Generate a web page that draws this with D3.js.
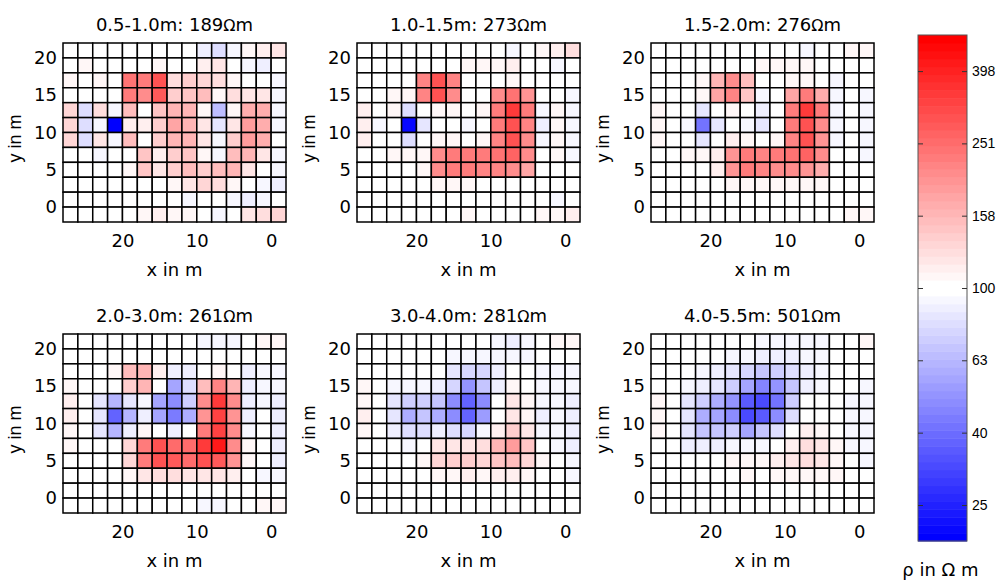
<!DOCTYPE html>
<html>
<head>
<meta charset="utf-8">
<script src="https://cdn.jsdelivr.net/npm/d3@7"></script>
<style>
  body { margin: 0; background: #fff; }
  text { fill: #000; }
</style>
</head>
<body>
<svg id="chart"></svg>
<script>
// cell centres in m (columns left->right, rows top->bottom)
const xCenters = [27, 25, 23, 21, 19, 17, 15, 13, 11, 9, 7, 5, 3, 1, -1];
const yCenters = [21, 19, 17, 15, 13, 11, 9, 7, 5, 3, 1, -1];

const depths = ["0.5-1.0m", "1.0-1.5m", "1.5-2.0m", "2.0-3.0m", "3.0-4.0m", "4.0-5.5m"];
const maxRho = [189, 273, 276, 261, 281, 501];

const xTicks = [0, 10, 20];
const yTicks = [0, 5, 10, 15, 20];
const cbTicks = [25.1, 39.8, 63.1, 100, 158.5, 251.2, 398.1];
const cbTickLabels = ["25", "40", "63", "100", "158", "251", "398"];

// resistivity in Ohm m
const rho1 = [
    [100, 100, 100, 100, 100, 100, 100, 100, 100, 88, 80, 93, 110, 112, 122],
    [100, 107, 100, 100, 100, 100, 107, 100, 100, 112, 118, 100, 93, 88, 100],
    [107, 100, 107, 100, 245, 225, 290, 128, 138, 135, 125, 107, 100, 100, 93],
    [100, 100, 100, 100, 225, 205, 285, 140, 145, 150, 110, 125, 118, 118, 92],
    [132, 78, 125, 93, 150, 100, 145, 165, 160, 107, 66, 107, 172, 172, 92],
    [135, 78, 93, 20, 115, 115, 140, 180, 165, 118, 82, 120, 190, 172, 93],
    [135, 78, 122, 93, 150, 100, 138, 165, 165, 122, 92, 140, 190, 168, 100],
    [100, 100, 93, 100, 100, 145, 115, 140, 145, 107, 93, 150, 165, 122, 92],
    [100, 100, 100, 100, 107, 148, 120, 140, 150, 140, 150, 165, 120, 100, 92],
    [100, 100, 100, 100, 100, 100, 100, 107, 118, 135, 128, 110, 100, 93, 90],
    [100, 100, 100, 100, 100, 100, 100, 100, 92, 100, 100, 93, 90, 92, 100],
    [100, 100, 100, 100, 100, 107, 112, 110, 107, 100, 93, 100, 118, 125, 130]
];
const rho2 = [
    [100, 100, 100, 100, 100, 100, 100, 100, 100, 100, 92, 100, 107, 112, 125],
    [100, 100, 100, 100, 100, 100, 100, 107, 107, 110, 112, 100, 100, 93, 100],
    [100, 100, 100, 100, 220, 300, 215, 100, 100, 100, 107, 100, 100, 100, 100],
    [100, 100, 107, 110, 215, 300, 205, 100, 100, 205, 245, 195, 100, 100, 93],
    [112, 100, 107, 80, 100, 108, 107, 100, 107, 235, 340, 235, 92, 108, 92],
    [115, 93, 100, 22, 85, 100, 100, 93, 100, 225, 300, 215, 90, 108, 92],
    [112, 100, 100, 80, 100, 108, 107, 100, 107, 215, 290, 205, 92, 110, 92],
    [100, 100, 107, 107, 107, 205, 225, 225, 235, 245, 270, 205, 100, 107, 93],
    [100, 100, 100, 100, 107, 205, 235, 225, 215, 215, 205, 180, 100, 100, 100],
    [100, 100, 100, 100, 100, 108, 108, 107, 100, 100, 100, 100, 100, 100, 100],
    [100, 100, 100, 100, 100, 100, 100, 100, 100, 100, 100, 100, 100, 93, 100],
    [100, 100, 100, 100, 100, 100, 100, 107, 100, 100, 100, 100, 107, 108, 115]
];
const rho3 = [
    [100, 100, 100, 100, 100, 100, 100, 100, 100, 100, 93, 100, 100, 107, 110],
    [100, 100, 100, 100, 100, 100, 100, 107, 107, 107, 107, 100, 100, 100, 100],
    [100, 100, 100, 107, 165, 205, 155, 100, 100, 107, 108, 100, 93, 100, 100],
    [100, 100, 100, 107, 180, 215, 145, 92, 100, 180, 235, 172, 92, 100, 93],
    [110, 100, 100, 82, 100, 107, 100, 88, 100, 225, 340, 225, 92, 100, 93],
    [110, 100, 93, 42, 85, 100, 92, 85, 100, 225, 300, 205, 92, 100, 93],
    [108, 100, 100, 82, 100, 112, 107, 100, 107, 215, 290, 195, 92, 100, 93],
    [100, 100, 107, 107, 115, 195, 235, 215, 225, 245, 270, 205, 100, 100, 93],
    [100, 100, 100, 100, 112, 195, 235, 215, 205, 205, 195, 172, 100, 100, 100],
    [100, 100, 100, 100, 100, 108, 110, 108, 110, 108, 108, 107, 100, 100, 100],
    [100, 100, 100, 100, 100, 100, 100, 100, 100, 100, 100, 100, 100, 100, 100],
    [100, 100, 100, 100, 100, 100, 100, 100, 100, 100, 100, 100, 100, 107, 108]
];
const rho4 = [
    [100, 100, 100, 100, 100, 100, 100, 100, 100, 93, 92, 93, 100, 107, 110],
    [100, 100, 100, 100, 100, 100, 100, 100, 100, 100, 100, 100, 100, 100, 100],
    [100, 100, 100, 107, 155, 165, 115, 88, 88, 100, 108, 100, 90, 92, 93],
    [107, 100, 100, 100, 140, 160, 100, 56, 78, 150, 215, 160, 90, 93, 92],
    [112, 100, 85, 62, 85, 92, 55, 48, 72, 205, 340, 205, 90, 93, 90],
    [115, 100, 82, 38, 62, 90, 55, 43, 60, 195, 320, 195, 88, 100, 90],
    [110, 100, 85, 62, 90, 108, 100, 88, 100, 225, 320, 205, 93, 100, 90],
    [107, 100, 100, 100, 135, 235, 290, 260, 260, 340, 410, 205, 107, 100, 90],
    [100, 100, 100, 100, 135, 235, 290, 275, 260, 290, 275, 195, 108, 100, 90],
    [100, 100, 100, 100, 107, 122, 125, 125, 122, 118, 122, 112, 100, 93, 92],
    [100, 100, 100, 100, 100, 100, 100, 100, 100, 100, 100, 100, 100, 100, 100],
    [100, 100, 100, 100, 100, 100, 100, 100, 100, 93, 92, 100, 100, 107, 107]
];
const rho5 = [
    [100, 100, 100, 100, 100, 100, 100, 100, 100, 93, 90, 92, 100, 107, 107],
    [100, 100, 100, 100, 100, 100, 93, 92, 92, 92, 92, 93, 100, 100, 100],
    [100, 100, 100, 100, 100, 100, 85, 75, 75, 88, 100, 100, 92, 93, 93],
    [107, 100, 93, 93, 93, 90, 75, 50, 68, 90, 107, 100, 92, 93, 92],
    [107, 100, 85, 72, 72, 68, 47, 38, 48, 100, 118, 107, 93, 93, 90],
    [112, 100, 82, 60, 70, 60, 47, 38, 52, 100, 118, 107, 90, 93, 90],
    [107, 100, 88, 78, 78, 88, 80, 75, 92, 112, 140, 118, 93, 93, 90],
    [100, 100, 100, 93, 100, 118, 120, 120, 128, 165, 185, 145, 100, 93, 90],
    [100, 100, 100, 100, 107, 130, 140, 140, 135, 145, 150, 135, 107, 100, 92],
    [100, 100, 100, 100, 100, 110, 110, 112, 110, 112, 115, 110, 100, 100, 93],
    [100, 100, 100, 100, 100, 100, 100, 100, 100, 100, 100, 100, 100, 100, 100],
    [100, 100, 100, 100, 100, 100, 100, 100, 100, 100, 100, 100, 100, 100, 100]
];
const rho6 = [
    [100, 100, 100, 100, 100, 100, 100, 93, 92, 92, 92, 93, 100, 100, 107],
    [100, 100, 100, 100, 100, 93, 92, 90, 88, 90, 92, 93, 100, 100, 100],
    [100, 100, 100, 93, 90, 82, 75, 68, 72, 78, 88, 93, 100, 100, 100],
    [100, 100, 92, 88, 82, 72, 55, 45, 50, 70, 88, 93, 100, 100, 93],
    [107, 100, 85, 72, 58, 50, 35, 32, 42, 72, 100, 100, 100, 93, 92],
    [108, 100, 82, 60, 55, 48, 33, 35, 48, 78, 100, 100, 100, 93, 92],
    [107, 100, 82, 70, 68, 72, 55, 70, 80, 100, 112, 108, 100, 93, 92],
    [100, 100, 90, 88, 90, 93, 93, 93, 100, 115, 128, 120, 107, 93, 92],
    [100, 100, 100, 100, 100, 107, 108, 107, 112, 120, 125, 118, 107, 100, 92],
    [100, 100, 100, 100, 100, 100, 107, 100, 107, 110, 110, 110, 107, 100, 100],
    [100, 100, 100, 100, 100, 100, 100, 100, 100, 100, 100, 100, 100, 100, 100],
    [100, 100, 100, 100, 100, 100, 100, 100, 100, 100, 100, 100, 100, 100, 100]
];
const panelData = [rho1, rho2, rho3, rho4, rho5, rho6];

const width = 996, height = 581;
const panelW = 223, panelH = 179;
const panelLeft = [63, 357, 651];
const panelTop = [43, 334];
const font = "'DejaVu Sans', sans-serif";
const fontNarrow = "'Liberation Sans', Arial, sans-serif";

const svg = d3.select("#chart")
    .attr("width", width)
    .attr("height", height);

svg.append("rect").attr("width", width).attr("height", height).attr("fill", "#fff");

// 64-step blue-white-red colormap on a log scale
const nLevels = 64;
const rhoMax = 501, rhoMin = 100 * 100 / 501;
const colormap = d3.range(nLevels).map(function (i) {
    const half = nLevels / 2;
    return i < half
        ? d3.interpolateRgb("#0000ff", "#ffffff")(i / (half - 1))
        : d3.interpolateRgb("#ffffff", "#ff0000")((i - half) / (half - 1));
});
const level = d3.scaleLog().domain([rhoMin, rhoMax]).range([0, nLevels]).clamp(true);
function color(v) {
    return colormap[Math.min(nLevels - 1, Math.floor(level(v)))];
}

const x = d3.scaleLinear().domain([28, -2]).range([0, panelW]);
const y = d3.scaleLinear().domain([-2, 22]).range([panelH, 0]);

panelData.forEach(function (rows, i) {
    const g = svg.append("g")
        .attr("transform", "translate(" + panelLeft[i % 3] + "," + panelTop[Math.floor(i / 3)] + ")");

    const cells = [];
    rows.forEach(function (r, ri) {
        r.forEach(function (v, ci) {
            cells.push({x: xCenters[ci], y: yCenters[ri], v: v});
        });
    });

    g.selectAll(".cell")
        .data(cells)
        .enter().append("rect")
        .attr("class", "cell")
        .attr("x", function (d) { return x(d.x + 1); })
        .attr("y", function (d) { return y(d.y + 1); })
        .attr("width", function (d) { return x(d.x - 1) - x(d.x + 1); })
        .attr("height", function (d) { return y(d.y - 1) - y(d.y + 1); })
        .attr("fill", function (d) { return color(d.v); })
        .attr("stroke", "#000")
        .attr("stroke-width", 1.5);

    const xAxis = g.append("g")
        .attr("transform", "translate(0," + panelH + ")")
        .call(d3.axisBottom(x).tickValues(xTicks).tickSize(0).tickPadding(12));
    const yAxis = g.append("g")
        .call(d3.axisLeft(y).tickValues(yTicks).tickSize(0).tickPadding(6));
    [xAxis, yAxis].forEach(function (a) {
        a.select(".domain").remove();
        a.attr("font-family", font).attr("font-size", 18);
        a.selectAll("text").attr("fill", "#000");
    });

    g.append("text")
        .attr("x", panelW / 2)
        .attr("y", panelH + 54)
        .attr("text-anchor", "middle")
        .attr("font-family", font)
        .attr("font-size", 18)
        .text("x in m");

    g.append("text")
        .attr("transform", "translate(-42," + (panelH / 2 + 6) + ") rotate(-90)")
        .attr("text-anchor", "middle")
        .attr("font-family", fontNarrow)
        .attr("font-size", 18)
        .text("y in m");

    const title = g.append("text")
        .attr("x", panelW / 2)
        .attr("y", -12)
        .attr("text-anchor", "middle")
        .attr("font-family", font)
        .attr("font-size", 18);
    title.append("tspan").text(depths[i] + ": " + maxRho[i]);
    title.append("tspan").attr("font-size", 16).text("\u03A9");
    title.append("tspan").text("m");
});

// colorbar
const cbLeft = 918, cbW = 49;
const cb = d3.scaleLog().domain([rhoMin, rhoMax]).range([541, 35]);

svg.append("g").selectAll("rect")
    .data(d3.range(nLevels))
    .enter().append("rect")
    .attr("x", cbLeft)
    .attr("width", cbW)
    .attr("y", function (d) { return cb(level.invert(d + 1)); })
    .attr("height", function (d) { return cb(level.invert(d)) - cb(level.invert(d + 1)) + 0.5; })
    .attr("fill", function (d) { return colormap[d]; });

svg.append("rect")
    .attr("x", cbLeft)
    .attr("y", cb(rhoMax))
    .attr("width", cbW)
    .attr("height", cb(rhoMin) - cb(rhoMax))
    .attr("fill", "none")
    .attr("stroke", "#555")
    .attr("stroke-width", 1);

const cbRight = svg.append("g")
    .attr("transform", "translate(" + (cbLeft + cbW) + ",0)")
    .call(d3.axisRight(cb).tickValues(cbTicks)
        .tickFormat(function (d, i) { return cbTickLabels[i]; })
        .tickSize(-5).tickPadding(5));
const cbLeftAxis = svg.append("g")
    .attr("transform", "translate(" + cbLeft + ",0)")
    .call(d3.axisLeft(cb).tickValues(cbTicks).tickFormat("").tickSize(-5));
[cbRight, cbLeftAxis].forEach(function (a) {
    a.select(".domain").remove();
    a.selectAll("line").attr("stroke", "#333");
});
cbRight.attr("font-family", fontNarrow).attr("font-size", 14);
cbRight.selectAll("text").attr("fill", "#000");

svg.append("text")
    .attr("x", cbLeft + cbW / 2 - 2)
    .attr("y", 576)
    .attr("text-anchor", "middle")
    .attr("font-family", font)
    .attr("font-size", 18)
    .text("\u03C1 in \u03A9 m");
</script>
</body>
</html>
